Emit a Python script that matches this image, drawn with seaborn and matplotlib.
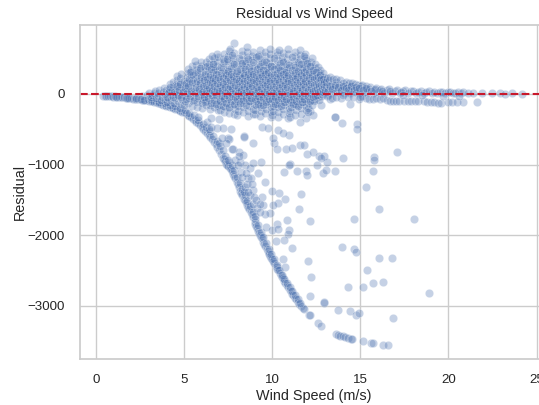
import pandas as pd
import matplotlib
matplotlib.use("Agg")
import matplotlib.pyplot as plt
import seaborn as sns

# calm winds, thin strip just under zero
calm = [(0.4,-25),(0.5,-28),(0.6,-30),(0.7,-26),(0.8,-34),(0.9,-33),(1.0,-38),(1.1,-36),(1.2,-44),(1.3,-42),
        (1.4,-46),(1.5,-50),(1.6,-48),(1.7,-54),(1.8,-58),(1.9,-55),(2.0,-62),(2.1,-66),(2.2,-68),(2.3,-72),
        (2.4,-70),(2.5,-78),(2.6,-82),(2.7,-85),(2.8,-90),(2.9,-88),(3.0,-95),(2.6,-30),(2.9,-10),(3.0,15),
        (1.15,-40),(1.75,-52),(2.25,-64),(2.55,-74),(2.75,-80),(2.95,-78),(3.05,-60),(3.15,-75),(3.25,-90),(3.45,-85)]

# lower edge, where the turbine made almost nothing
lower_curve = [(3.1,-100),(3.2,-106),(3.3,-112),(3.4,-120),(3.5,-128),(3.6,-135),(3.7,-142),(3.8,-150),(3.9,-158),(4.0,-165),
               (4.1,-174),(4.2,-182),(4.3,-190),(4.4,-198),(4.5,-208),(4.6,-218),(4.7,-228),(4.8,-238),(4.9,-250),(5.0,-260),
               (5.1,-275),(5.2,-292),(5.3,-310),(5.4,-330),(5.5,-350),(5.6,-372),(5.7,-395),(5.8,-418),(5.9,-445),(6.0,-470),
               (6.1,-495),(6.2,-525),(6.3,-552),(6.4,-580),(6.5,-612),(6.6,-642),(6.7,-675),(6.8,-715),(6.9,-755),(7.0,-800),
               (7.1,-850),(7.2,-900),(7.25,-925),(7.3,-950),(7.4,-985),(7.45,-1005),(7.5,-1020),(7.6,-1050),(7.65,-1065),(7.7,-1085),
               (7.8,-1130),(7.85,-1160),(7.9,-1190),(8.0,-1245),(8.05,-1275),(8.1,-1310),(8.2,-1370),(8.25,-1400),(8.3,-1425),(8.4,-1480),
               (8.45,-1505),(8.5,-1530),(8.6,-1575),(8.65,-1600),(8.7,-1625),(8.8,-1675),(8.85,-1705),(8.9,-1740),(9.0,-1805),(9.05,-1835),
               (9.1,-1870),(9.15,-1900),(9.2,-1935),(9.25,-1965),(9.3,-1995),(9.35,-2020),(9.4,-2045),(9.5,-2095),(9.55,-2120),(9.6,-2145),
               (9.7,-2195),(9.75,-2220),(9.8,-2245),(9.85,-2270),(9.9,-2290),(9.95,-2315),(10.0,-2335),(10.05,-2360),(10.1,-2385),(10.2,-2430),
               (10.25,-2450),(10.3,-2475),(10.35,-2495),(10.45,-2540),(10.5,-2560),(10.55,-2585),(10.6,-2605),(10.7,-2650),(10.75,-2670),(10.85,-2710),
               (10.9,-2730),(11.0,-2772),(11.05,-2795),(11.15,-2830),(11.2,-2850),(11.3,-2885),(11.35,-2905),(11.45,-2945),(11.55,-2975),(11.65,-3005),
               (11.75,-3030),(11.8,-3045),(12.1,-3125),(12.15,-3130),(12.6,-3235),(12.8,-3280),(13.65,-3395),(13.75,-3405),(13.85,-3420),(14.0,-3430),
               (14.15,-3445),(14.3,-3455),(14.45,-3465),(14.55,-3470),(15.15,-3495),(15.6,-3520),(15.75,-3525),(16.3,-3550),(16.55,-3555)]

# second pass along the curve, it is a few points wide in the picture
curve_inner = [(3.6,-115),(3.9,-130),(4.2,-150),(4.5,-175),(4.8,-200),(5.05,-225),(5.3,-265),(5.55,-305),(5.8,-365),(6.05,-420),
               (6.25,-470),(6.45,-530),(6.65,-590),(6.85,-660),(7.05,-735),(7.2,-800),(7.35,-880),(7.55,-960),(7.7,-1010),(7.85,-1080),
               (8.0,-1170),(8.15,-1260),(8.3,-1350),(8.45,-1430),(8.6,-1510),(8.75,-1590),(8.9,-1670),(9.05,-1765),(9.2,-1860),(9.35,-1950),
               (9.5,-2030),(9.65,-2110),(9.8,-2190),(9.95,-2265),(10.1,-2340),(10.25,-2415),(10.4,-2490),(10.55,-2555),(10.7,-2620),(10.85,-2680),
               (11.0,-2735),(11.15,-2790),(11.3,-2850),(11.45,-2905),(11.6,-2960),(6.4,-500),(7.0,-700),(7.5,-930),(8.4,-1390),(9.0,-1730)]

# scattered curtailed points between the curve and the cloud
sparse = [(8.39,-594),(8.92,-697),(10.1,-697),(10.25,-782),(10.76,-782),(11.14,-764),(11.57,-721),(11.82,-721),(11.99,-853),(12.33,-815),
          (12.67,-872),(12.95,-872),(13.12,-957),(12.56,-1004),(11.0,-995),(10.95,-1000),(10.7,-1098),(11.42,-1089),(11.91,-1084),(11.97,-1150),
          (12.89,-1112),(13.05,-1075),(13.54,-1089),(14.03,-910),(15.8,-886),(17.09,-820),(15.71,-1089),(15.35,-1320),(16.05,-1626),(18.02,-1770),
          (14.63,-1770),(12.12,-1796),(11.53,-1626),(11.63,-1419),(10.82,-1781),(10.74,-1480),(10.4,-1395),(9.97,-1371),(9.4,-1452),(9.21,-1121),
          (9.36,-957),(9.59,-1240),(10.34,-1537),(10.06,-1570),(9.49,-1570),(9.87,-1688),(9.59,-1697),(10.25,-1838),(9.68,-1876),(9.97,-1923),
          (10.34,-1909),(10.95,-1923),(10.91,-1980),(10.2,-2079),(10.7,-2065),(11.14,-2183),(13.97,-2159),(14.65,-2192),(14.73,-2230),(10.59,-2338),
          (10.74,-2447),(12.02,-2362),(12.2,-2583),(16.09,-2324),(16.81,-2324),(15.41,-2498),(14.33,-2738),(15.16,-2728),(15.71,-2681),(16.3,-2663),
          (18.91,-2819),(12.12,-2852),(12.97,-2960),(12.95,-2950),(13.75,-3054),(14.43,-3078),(14.73,-3125),(14.92,-3102),(16.85,-3163),(7.79,-782),
          (8.11,-815),(8.36,-862),(7.89,-933),(8.17,-957),(8.45,-1004),(8.74,-1051),(8.92,-980),(8.26,-1098),(8.64,-1192),(8.79,-1192),
          (8.45,-1310),(8.92,-1357),(8.74,-1428),(8.96,-1452),(9.15,-1617),(9.3,-1670),(8.05,-1010),(8.3,-1180),(8.55,-1270),(8.1,-880),
          (8.5,-1120),(8.85,-1280),(8.65,-1390),(8.9,-1560),(9.1,-1500),(9.3,-1560),(5.8,-321),(6.28,-391),(6.56,-344),(7.0,-354),
          (6.56,-462),(6.9,-484),(7.22,-486),(7.5,-627),(8.4,-603),(7.75,-783),(10.34,-509),(10.96,-580),(10.6,-557),(9.4,-462),
          (9.78,-486),(10.06,-627),(7.55,-640),(7.4,-700),(7.15,-630),(7.65,-500),(13.56,-330),(13.54,-320),(13.97,-405),(14.8,-424),
          (14.8,-500),(12.8,-900),(15.79,-930),(12.14,-235),(12.8,-155),(14.41,-141),(12.3,-300),(11.9,-340),(11.6,-400)]

# main cloud, grouped by wind band
cloud_3_4 = [(3.1,-40),(3.2,-10),(3.3,20),(3.35,45),(3.4,-60),(3.5,-25),(3.55,10),(3.6,60),(3.7,-85),(3.75,-40),(3.8,30),(3.85,90),(3.9,-70),(3.95,0),(3.98,55)]
cloud_4_5 = [(4.05,-110),(4.1,-55),(4.12,15),(4.15,75),(4.2,140),(4.25,-85),(4.3,-20),(4.32,50),(4.35,110),(4.4,175),(4.45,-125),(4.47,-60),(4.5,5),(4.52,70),(4.55,130),
             (4.6,200),(4.62,250),(4.65,-100),(4.68,-35),(4.7,30),(4.73,95),(4.76,160),(4.8,225),(4.82,280),(4.85,-140),(4.87,-70),(4.9,-10),(4.92,55),(4.95,120),(4.98,185)]
cloud_5_6 = [(5.02,-150),(5.05,-95),(5.07,-30),(5.1,40),(5.12,105),(5.15,170),(5.18,235),(5.2,295),(5.22,350),(5.25,-125),(5.27,-60),(5.3,10),(5.32,70),(5.35,135),(5.38,200),
             (5.4,265),(5.42,330),(5.45,390),(5.47,-165),(5.5,-100),(5.52,-40),(5.55,25),(5.57,90),(5.6,155),(5.62,220),(5.65,285),(5.67,345),(5.7,410),(5.72,-180),(5.75,-120),
             (5.77,-55),(5.8,5),(5.82,75),(5.85,140),(5.87,205),(5.9,270),(5.92,335),(5.95,400),(5.97,455),(5.98,-85),(5.99,50),(5.6,465)]
cloud_6_7 = [(6.02,-195),(6.04,-130),(6.06,-70),(6.08,-5),(6.1,60),(6.12,125),(6.14,190),(6.16,255),(6.18,320),(6.2,385),(6.22,445),(6.24,-160),(6.26,-95),(6.28,-30),(6.3,35),
             (6.32,100),(6.34,165),(6.36,230),(6.38,295),(6.4,360),(6.42,425),(6.44,490),(6.46,-215),(6.48,-150),(6.5,-80),(6.52,-15),(6.54,50),(6.56,115),(6.58,180),(6.6,245),
             (6.62,310),(6.64,375),(6.66,440),(6.68,505),(6.7,-190),(6.72,-125),(6.74,-55),(6.76,10),(6.78,75),(6.8,140),(6.82,205),(6.84,270),(6.86,335),(6.88,400),(6.9,465),
             (6.92,525),(6.94,-230),(6.95,-165),(6.96,-100),(6.97,-35),(6.98,30),(6.99,95),(6.15,-40),(6.35,70),(6.55,210),(6.75,340),(6.85,560),(6.6,540)]
cloud_7_8 = [(7.02,-225),(7.04,-150),(7.06,-85),(7.08,-20),(7.1,45),(7.12,110),(7.14,175),(7.16,240),(7.18,305),(7.2,370),(7.22,435),(7.24,500),(7.26,560),(7.28,-250),(7.3,-180),
             (7.32,-115),(7.34,-50),(7.36,15),(7.38,80),(7.4,145),(7.42,210),(7.44,275),(7.46,340),(7.48,405),(7.5,470),(7.52,530),(7.54,610),(7.56,-270),(7.58,-205),(7.6,-140),
             (7.62,-70),(7.64,-5),(7.66,60),(7.68,125),(7.7,190),(7.72,255),(7.74,320),(7.76,385),(7.78,450),(7.8,515),(7.82,580),(7.84,725),(7.86,-285),(7.88,-220),(7.9,-160),
             (7.92,-95),(7.94,-30),(7.96,35),(7.98,100),(7.99,165),(7.15,20),(7.35,290),(7.55,90),(7.75,-30),(7.85,230),(7.25,-60),(7.45,160),(7.65,360),(7.95,430),(7.6,630)]
cloud_8_9 = [(8.02,-300),(8.04,-235),(8.06,-170),(8.08,-105),(8.1,-40),(8.12,25),(8.14,90),(8.16,155),(8.18,220),(8.2,285),(8.22,350),(8.24,415),(8.26,480),(8.28,545),(8.3,610),
             (8.32,-255),(8.34,-190),(8.36,-125),(8.38,-60),(8.4,5),(8.42,70),(8.44,135),(8.46,200),(8.48,265),(8.5,330),(8.52,395),(8.54,460),(8.56,525),(8.58,590),(8.6,665),
             (8.62,-310),(8.64,-240),(8.66,-175),(8.68,-110),(8.7,-45),(8.72,20),(8.74,85),(8.76,150),(8.78,215),(8.8,280),(8.82,345),(8.84,410),(8.86,475),(8.88,540),(8.9,600),
             (8.92,-280),(8.94,-210),(8.95,-145),(8.96,-80),(8.97,-15),(8.98,50),(8.99,115),(8.15,-20),(8.35,300),(8.55,120),(8.75,-95),(8.85,170),(8.25,60),(8.45,440),(8.65,250),
             (8.05,180),(8.95,360),(8.3,-100),(8.7,380),(8.5,-30),(8.9,250),(8.1,510),(8.6,30)]
cloud_9_10 = [(9.02,-290),(9.04,-225),(9.06,-160),(9.08,-95),(9.1,-30),(9.12,35),(9.14,100),(9.16,165),(9.18,230),(9.2,295),(9.22,360),(9.24,425),(9.26,490),(9.28,555),(9.3,620),
              (9.32,-310),(9.34,-245),(9.36,-180),(9.38,-115),(9.4,-50),(9.42,15),(9.44,80),(9.46,145),(9.48,210),(9.5,275),(9.52,340),(9.54,405),(9.56,470),(9.58,535),(9.6,590),
              (9.62,-275),(9.64,-210),(9.66,-145),(9.68,-80),(9.7,-15),(9.72,50),(9.74,115),(9.76,180),(9.78,245),(9.8,310),(9.82,375),(9.84,440),(9.86,505),(9.88,570),(9.9,640),
              (9.92,-320),(9.94,-255),(9.95,-190),(9.96,-125),(9.97,-60),(9.98,5),(9.99,70),(9.15,-60),(9.35,250),(9.55,130),(9.75,-100),(9.85,170),(9.25,40),(9.45,450),(9.65,290),
              (9.05,190),(9.95,390),(9.3,-150),(9.7,360),(9.5,-35),(9.9,240),(9.1,520),(9.6,20)]
cloud_10_11 = [(10.02,-300),(10.04,-235),(10.06,-170),(10.08,-105),(10.1,-40),(10.12,25),(10.14,90),(10.16,155),(10.18,220),(10.2,285),(10.22,350),(10.24,415),(10.26,480),(10.28,545),(10.3,590),
               (10.32,-330),(10.34,-255),(10.36,-190),(10.38,-125),(10.4,-60),(10.42,5),(10.44,70),(10.46,135),(10.48,200),(10.5,265),(10.52,330),(10.54,395),(10.56,460),(10.58,525),(10.6,575),
               (10.62,-290),(10.64,-220),(10.66,-155),(10.68,-90),(10.7,-25),(10.72,40),(10.74,105),(10.76,170),(10.78,235),(10.8,300),(10.82,365),(10.84,430),(10.86,495),(10.88,560),(10.9,630),
               (10.92,-340),(10.94,-265),(10.95,-200),(10.96,-135),(10.97,-70),(10.98,-5),(10.99,60),(10.15,-50),(10.35,240),(10.55,120),(10.75,-110),(10.85,160),(10.25,30),(10.45,440),(10.65,280),
               (10.05,180),(10.95,380),(10.3,-140),(10.7,350),(10.5,-30),(10.9,230),(10.1,510),(10.6,10),(10.4,620)]
cloud_11_12 = [(11.02,-320),(11.04,-245),(11.06,-180),(11.08,-115),(11.1,-50),(11.12,15),(11.14,80),(11.16,145),(11.18,210),(11.2,275),(11.22,340),(11.24,405),(11.26,470),(11.28,535),(11.3,600),
               (11.32,-300),(11.34,-225),(11.36,-160),(11.38,-95),(11.4,-30),(11.42,35),(11.44,100),(11.46,165),(11.48,230),(11.5,295),(11.52,360),(11.54,425),(11.56,490),(11.58,555),(11.6,625),
               (11.62,-280),(11.64,-205),(11.66,-140),(11.68,-75),(11.7,-10),(11.72,55),(11.74,120),(11.76,185),(11.78,250),(11.8,315),(11.82,380),(11.84,445),(11.86,510),(11.88,570),(11.9,-230),
               (11.92,-165),(11.94,-100),(11.95,-35),(11.96,30),(11.97,95),(11.98,160),(11.99,225),(11.15,-70),(11.35,250),(11.55,130),(11.75,-120),(11.85,170),(11.25,40),(11.45,450),(11.65,290),
               (11.05,190),(11.95,390),(11.3,-140),(11.7,360),(11.5,-25),(11.9,480),(11.1,520),(11.6,20),(11.8,530)]
cloud_12_13 = [(12.02,-200),(12.04,-130),(12.06,-65),(12.08,0),(12.1,65),(12.12,130),(12.14,195),(12.16,260),(12.18,325),(12.2,390),(12.22,455),(12.24,515),(12.26,-150),(12.28,-85),(12.3,-20),
               (12.32,45),(12.34,110),(12.36,175),(12.38,240),(12.4,305),(12.42,370),(12.44,430),(12.46,-70),(12.48,-10),(12.5,55),(12.52,120),(12.54,185),(12.56,250),(12.58,315),(12.6,380),
               (12.62,-50),(12.64,15),(12.66,80),(12.68,145),(12.7,210),(12.72,275),(12.74,335),(12.76,-30),(12.78,35),(12.8,100),(12.82,165),(12.84,230),(12.86,290),(12.88,-15),(12.9,50),
               (12.92,115),(12.94,180),(12.96,245),(12.98,20),(12.99,85),(12.05,-260),(12.25,280),(12.45,90),(12.65,-80),(12.15,30),(12.35,-100)]

# second pass over the cloud, breaks up the rows and darkens the core
core_4_6 = [(4.03,-38),(4.17,28),(4.23,92),(4.38,-42),(4.44,33),(4.58,108),(4.64,-18),(4.71,62),(4.79,143),(4.83,-48),(4.94,22),(5.03,83),(5.09,158),(5.14,-72),(5.19,8),(5.24,118),
            (5.29,212),(5.34,-33),(5.41,47),(5.46,171),(5.51,268),(5.56,-92),(5.61,13),(5.66,98),(5.71,183),(5.76,308),(5.81,-28),(5.86,67),(5.91,153),(5.96,238),(5.93,372),(5.33,305)]
core_6_8 = [(6.03,23),(6.07,108),(6.11,-47),(6.13,193),(6.17,282),(6.19,-112),(6.23,37),(6.27,133),(6.31,218),(6.33,402),(6.37,-58),(6.41,12),(6.43,88),(6.47,172),(6.49,263),(6.51,347),
            (6.53,-123),(6.57,-22),(6.59,62),(6.61,148),(6.63,232),(6.67,423),(6.69,-82),(6.71,28),(6.73,117),(6.77,203),(6.79,288),(6.81,-148),(6.83,-13),(6.87,73),(6.89,158),(6.91,243),
            (7.01,43),(7.03,128),(7.05,-102),(7.07,213),(7.09,298),(7.11,383),(7.13,-33),(7.17,52),(7.19,-168),(7.21,137),(7.23,222),(7.27,467),(7.29,-72),(7.31,18),(7.33,103),(7.37,188),
            (7.39,273),(7.41,-128),(7.43,-12),(7.47,73),(7.49,243),(7.51,328),(7.53,-192),(7.57,-48),(7.59,33),(7.61,118),(7.63,203),(7.67,288),(7.69,-98),(7.71,-8),(7.73,78),(7.77,163),
            (7.79,248),(7.81,418),(7.83,-142),(7.87,-38),(7.89,48),(7.91,133),(7.93,218),(7.97,303),(7.42,500),(7.72,555)]
core_8_10 = [(8.03,-68),(8.07,18),(8.09,103),(8.11,188),(8.13,273),(8.17,358),(8.19,-133),(8.21,-28),(8.23,57),(8.27,142),(8.29,227),(8.31,437),(8.33,-88),(8.37,7),(8.39,92),(8.41,177),
             (8.43,262),(8.47,347),(8.49,-158),(8.51,-53),(8.53,32),(8.57,117),(8.59,202),(8.61,287),(8.63,492),(8.67,-103),(8.69,-18),(8.71,67),(8.73,152),(8.77,237),(8.79,322),(8.81,-63),
             (8.83,22),(8.87,107),(8.89,192),(8.91,277),(8.93,447),(8.03,320),(9.01,-73),(9.03,12),(9.07,97),(9.09,182),(9.11,267),(9.13,352),(9.17,-138),(9.19,-33),(9.21,52),(9.23,137),
             (9.27,222),(9.29,307),(9.31,392),(9.33,-88),(9.37,-3),(9.39,82),(9.41,167),(9.43,252),(9.47,337),(9.49,-163),(9.51,-58),(9.53,27),(9.57,112),(9.59,197),(9.61,282),(9.63,457),
             (9.67,-108),(9.69,-23),(9.71,62),(9.73,147),(9.77,232),(9.79,317),(9.81,-68),(9.83,17),(9.87,102),(9.89,187),(9.91,272),(9.93,402),(9.22,530)]
core_10_12 = [(10.01,-78),(10.03,7),(10.07,92),(10.09,177),(10.11,262),(10.13,347),(10.17,-143),(10.19,-38),(10.21,47),(10.23,132),(10.27,217),(10.29,302),(10.31,387),(10.33,-93),(10.37,-8),(10.39,77),
              (10.41,162),(10.43,247),(10.47,332),(10.49,-168),(10.51,-63),(10.53,22),(10.57,107),(10.59,192),(10.61,277),(10.63,447),(10.67,-113),(10.69,-28),(10.71,57),(10.73,142),(10.77,227),(10.79,312),
              (10.81,-73),(10.83,12),(10.87,97),(10.89,182),(10.91,267),(10.93,412),(11.01,-83),(11.03,2),(11.07,87),(11.09,172),(11.11,257),(11.13,342),(11.17,-148),(11.19,-43),(11.21,42),(11.23,127),
              (11.27,212),(11.29,297),(11.31,382),(11.33,-98),(11.37,-13),(11.39,72),(11.41,157),(11.43,242),(11.47,327),(11.49,-173),(11.51,-68),(11.53,17),(11.57,102),(11.59,187),(11.61,272),(11.63,422),
              (11.67,-118),(11.69,-33),(11.71,52),(11.73,137),(11.77,222),(11.79,307),(11.81,-78),(11.83,7),(11.87,92),(11.89,177),(11.91,262),(11.93,352),(11.99,437)]
core_12_13 = [(12.01,-33),(12.03,52),(12.07,137),(12.09,222),(12.11,307),(12.13,392),(12.17,-98),(12.19,-8),(12.21,77),(12.23,162),(12.27,247),(12.29,332),(12.31,-48),(12.33,37),(12.37,122),(12.39,207),
              (12.41,-28),(12.43,57),(12.47,142),(12.49,227),(12.51,312),(12.53,-18),(12.57,67),(12.59,152),(12.61,237),(12.63,27),(12.67,112),(12.69,197),(12.71,272),(12.73,42),(12.77,127),(12.79,212),
              (12.81,-8),(12.83,67),(12.87,142),(12.89,212),(12.91,32),(12.93,97),(12.97,162)]

# tail above zero, narrowing out to the highest winds
upper_tail = [(13.02,40),(13.05,105),(13.08,170),(13.1,225),(13.15,-20),(13.18,60),(13.2,125),(13.25,190),(13.3,245),(13.33,15),(13.37,80),(13.4,145),(13.45,205),(13.5,40),(13.55,100),
              (13.6,165),(13.65,215),(13.7,25),(13.75,70),(13.8,130),(13.85,190),(13.9,45),(13.95,100),(14.0,160),(14.05,20),(14.1,75),(14.15,130),(14.2,170),(14.25,40),(14.3,95),
              (14.35,150),(14.4,20),(14.45,70),(14.5,125),(14.55,155),(14.6,35),(14.65,85),(14.7,135),(14.75,25),(14.8,70),(14.85,120),(14.9,15),(15.0,60),(15.05,105),(15.1,130),
              (15.2,30),(15.25,75),(15.3,115),(15.4,25),(15.5,65),(15.55,100),(15.7,20),(15.8,55),(15.9,85),(16.0,25),(16.1,60),(16.2,75),(16.35,20),(16.5,50),(16.65,70),
              (16.8,20),(16.95,45),(17.1,60),(17.25,15),(17.4,40),(17.55,50),(17.7,15),(17.85,35),(18.0,45),(18.15,10),(18.3,30),(18.45,40),(18.6,10),(18.75,30),(18.9,35),
              (19.05,15),(19.2,30),(19.35,10),(19.5,25),(19.65,30),(19.8,10),(19.95,25),(20.1,30),(20.25,15),(20.4,20),(20.55,25),(20.7,15),(20.85,25),(21.1,20),(21.4,10),
              (21.9,15),(22.5,10),(22.9,15),(23.2,5),(23.6,10),(24.2,5),(13.12,30),(13.28,115),(13.42,70),(13.58,130),(13.72,95),(13.88,60),(14.02,115),(14.18,85),(14.32,50),(14.48,105),
              (14.62,60),(14.78,100),(14.95,85),(15.15,55),(15.35,80),(15.6,45),(15.85,70),(16.25,45),(16.7,40),(17.3,30)]

# second band just under zero, from 13 m/s up
lower_tail = [(13.1,-30),(13.3,-70),(13.4,-60),(13.6,-40),(13.9,-60),(14.0,-20),(14.3,-50),(14.6,-45),(14.9,-75),(15.1,-25),(15.3,-60),(15.5,-65),(15.7,-75),(15.9,-60),(16.1,-70),
              (16.3,-55),(16.5,-85),(16.7,-100),(16.85,-105),(17.0,-100),(17.2,-105),(17.5,-100),(17.7,-105),(17.9,-100),(18.1,-100),(18.3,-105),(18.6,-105),(18.8,-115),(19.0,-110),(19.2,-120),
              (19.4,-125),(19.6,-125),(20.0,-120),(20.2,-120),(20.5,-115),(20.8,-115),(21.6,-120),(15.0,-40),(17.4,-10),(18.5,-20),(19.7,-25),(20.6,-30)]

groups = [calm, lower_curve, curve_inner, sparse, cloud_3_4, cloud_4_5, cloud_5_6, cloud_6_7, cloud_7_8,
          cloud_8_9, cloud_9_10, cloud_10_11, cloud_11_12, cloud_12_13,
          core_4_6, core_6_8, core_8_10, core_10_12, core_12_13, upper_tail, lower_tail]
df = pd.DataFrame([p for g in groups for p in g], columns=["wind_speed", "residual"])

sns.set_theme(style="whitegrid")
plt.rcParams['font.family'] = ['Liberation Sans', 'DejaVu Sans']

fig = plt.figure(figsize=(5.39, 4.05), dpi=100)
ax = fig.add_axes([80 / 539, 1 - 359 / 405, 468 / 539, 334 / 405])
sns.scatterplot(data=df, x="wind_speed", y="residual", s=36, alpha=0.32, color="#4c72b0", ax=ax)
ax.axhline(0, color="#c9182b", linestyle="--", linewidth=1.5)
ax.set_title("Residual vs Wind Speed", fontsize=10.4, pad=5)
ax.set_xlabel("Wind Speed (m/s)", fontsize=10.4, labelpad=2)
ax.set_ylabel("Residual", fontsize=10.4, labelpad=0)
ax.tick_params(labelsize=9.6, pad=5)
ax.set_xlim(-0.9, 25.65)
ax.set_ylim(-3750, 975)
ax.set_xticks([0, 5, 10, 15, 20, 25])
ax.set_yticks([-3000, -2000, -1000, 0])

plt.savefig("out.png", dpi=100)
